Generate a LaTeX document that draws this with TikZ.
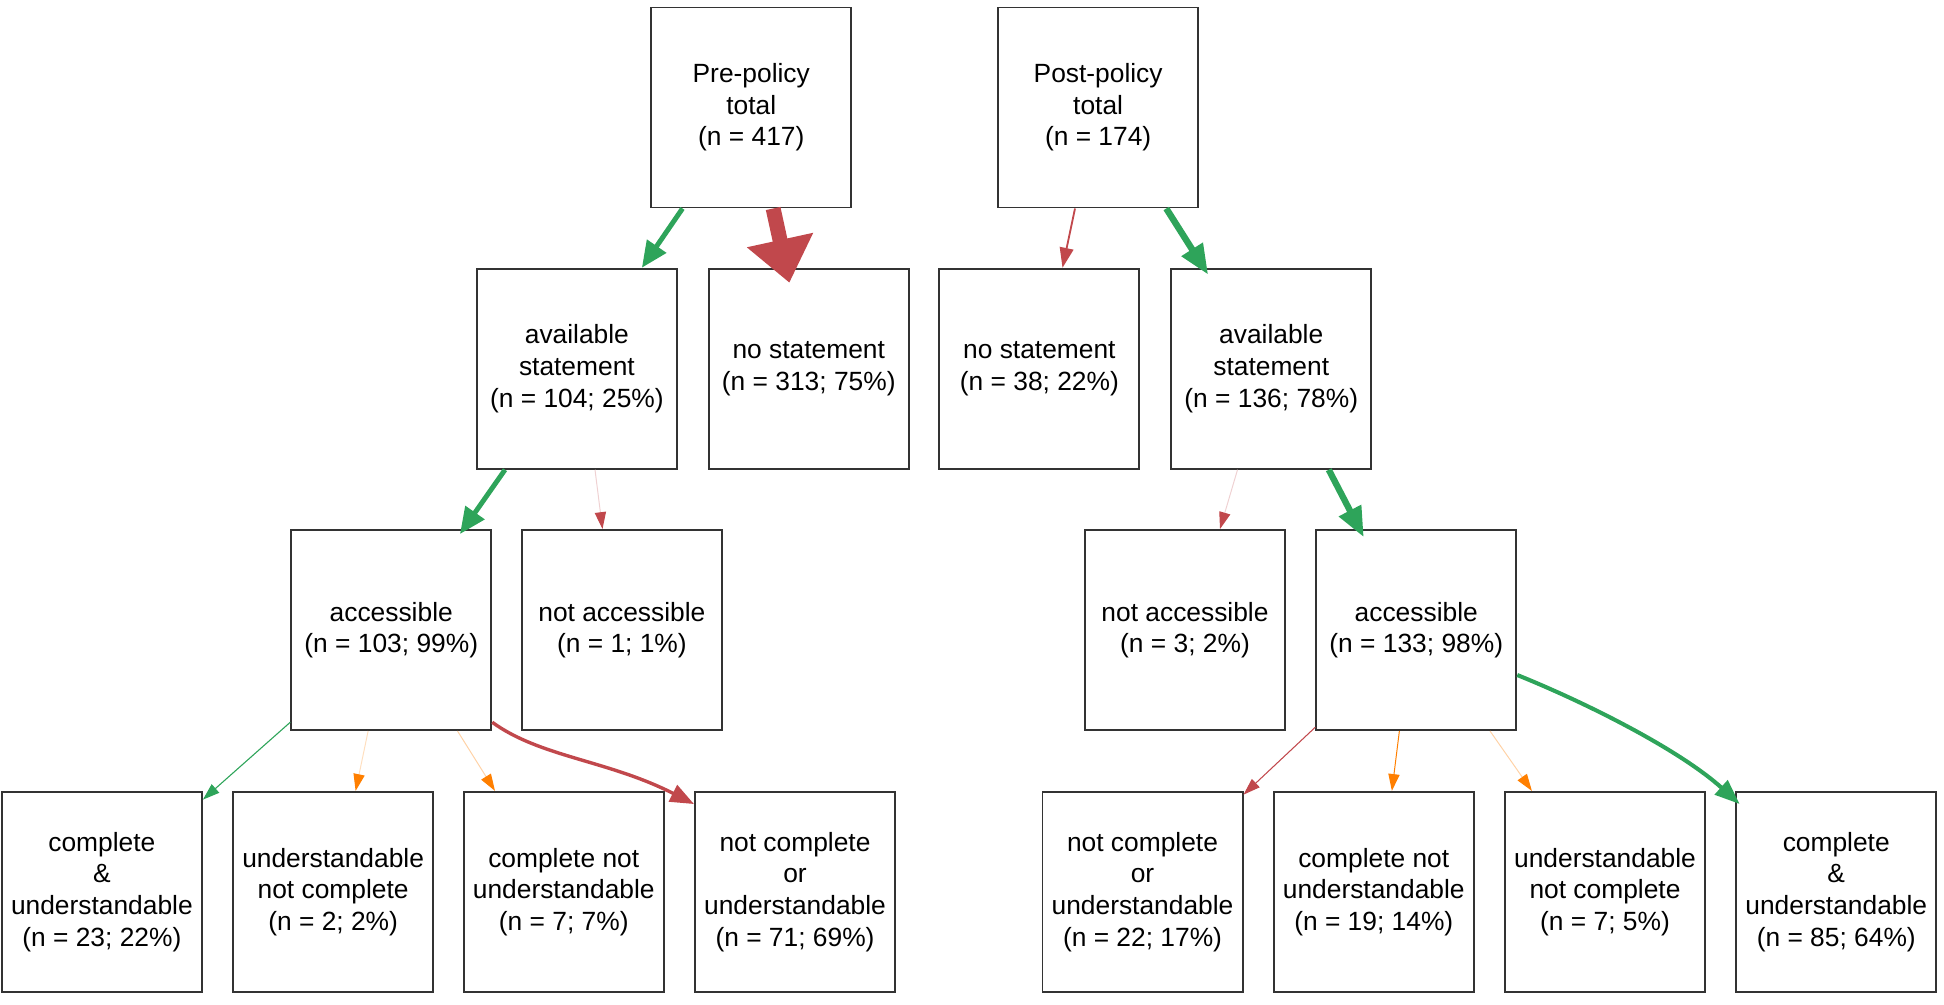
\documentclass[tikz,border=0pt]{standalone}
\usepackage{fontspec}
\setmainfont{Liberation Sans}
\usetikzlibrary{arrows.meta}
\definecolor{yescol}{RGB}{46,164,90}
\definecolor{nocol}{RGB}{193,72,76}
\definecolor{partcol}{RGB}{255,127,0}
\tikzstyle{box}=[draw=black!80, line width=0.9pt, minimum width=3.2cm,
  minimum height=3.2cm, align=center, inner sep=1pt,
  font=\fontsize{12pt}{14.4pt}\selectfont]
\tikzstyle{flow}=[line cap=butt]
\tikzset{small head/.style={-{Triangle[length=0.27cm,width=0.18cm,color=#1]}}}

\begin{document}
\begin{tikzpicture}
  \useasboundingbox (0,0) rectangle (31.104,-16.064);
  % Totals
  \node[box] (pre)  at (12.02,-1.72) {Pre-policy\\total\\(n = 417)};
  \node[box] (post) at (17.57,-1.72) {Post-policy\\total\\(n = 174)};
  % Statements
  \node[box] (avlpre)  at (9.23,-5.90)  {available\\statement\\(n = 104; 25\%)};
  \node[box] (nopre)   at (12.94,-5.90) {no statement\\(n = 313; 75\%)};
  \node[box] (nopost)  at (16.63,-5.90) {no statement\\(n = 38; 22\%)};
  \node[box] (avlpost) at (20.34,-5.90) {available\\statement\\(n = 136; 78\%)};
  % Access
  \node[box] (accpre)  at (6.26,-10.08)  {accessible\\(n = 103; 99\%)};
  \node[box] (napre)   at (9.95,-10.08)  {not accessible\\(n = 1; 1\%)};
  \node[box] (napost)  at (18.96,-10.08) {not accessible\\(n = 3; 2\%)};
  \node[box] (accpost) at (22.66,-10.08) {accessible\\(n = 133; 98\%)};
  % Quality
  \node[box] (cupre)   at (1.63,-14.27)  {complete\\\&\\understandable\\(n = 23; 22\%)};
  \node[box] (uncpre)  at (5.33,-14.27)  {understandable\\not complete\\(n = 2; 2\%)};
  \node[box] (cnupre)  at (9.02,-14.27)  {complete not\\understandable\\(n = 7; 7\%)};
  \node[box] (ncupre)  at (12.72,-14.27) {not complete\\or\\understandable\\(n = 71; 69\%)};
  \node[box] (ncupost) at (18.28,-14.27) {not complete\\or\\understandable\\(n = 22; 17\%)};
  \node[box] (cnupost) at (21.98,-14.27) {complete not\\understandable\\(n = 19; 14\%)};
  \node[box] (uncpost) at (25.68,-14.27) {understandable\\not complete\\(n = 7; 5\%)};
  \node[box] (cupost)  at (29.38,-14.27) {complete\\\&\\understandable\\(n = 85; 64\%)};
  % Flows, width follows n
  \draw[flow,yescol,line width=2.26pt,-{Triangle[length=0.42cm,width=0.36cm]}]
    ([xshift=-1.1cm]pre.south) -- ([xshift=1.04cm]avlpre.north);
  \draw[flow,nocol,line width=6.8pt,-{Triangle[length=0.7cm,width=1.04cm]}]
    ([xshift=0.35cm]pre.south) -- ([xshift=-0.31cm,yshift=-0.24cm]nopre.north);
  \draw[flow,nocol,line width=0.83pt,-{Triangle[length=0.32cm,width=0.22cm]}]
    ([xshift=-0.37cm]post.south) -- ([xshift=0.37cm]nopost.north);
  \draw[flow,yescol,line width=2.96pt,-{Triangle[length=0.48cm,width=0.38cm]}]
    ([xshift=1.09cm]post.south) -- ([xshift=-1.01cm,yshift=-0.11cm]avlpost.north);
  \draw[flow,yescol,line width=2.24pt,-{Triangle[length=0.42cm,width=0.36cm]}]
    ([xshift=-1.15cm]avlpre.south) -- ([xshift=1.1cm,yshift=-0.08cm]accpre.north);
  \draw[flow,nocol!25,line width=0.45pt,small head=nocol]
    ([xshift=0.29cm]avlpre.south) -- ([xshift=-0.31cm]napre.north);
  \draw[flow,nocol!25,line width=0.45pt,small head=nocol]
    ([xshift=-0.54cm]avlpost.south) -- ([xshift=0.56cm]napost.north);
  \draw[flow,yescol,line width=2.9pt,-{Triangle[length=0.48cm,width=0.38cm]}]
    ([xshift=0.92cm]avlpost.south) -- ([xshift=-0.84cm,yshift=-0.13cm]accpost.north);
  % Pre-policy quality
  \draw[flow,yescol,line width=0.5pt,small head=yescol]
    ([yshift=0.14cm]accpre.south west) -- ([yshift=-0.14cm]cupre.north east);
  \draw[flow,partcol!25,line width=0.45pt,small head=partcol]
    ([xshift=-0.37cm]accpre.south) -- ([xshift=0.36cm]uncpre.north);
  \draw[flow,partcol!35,line width=0.45pt,small head=partcol]
    ([xshift=1.06cm]accpre.south) -- ([xshift=-1.1cm]cnupre.north);
  \draw[flow,nocol,line width=1.55pt,-{Triangle[length=0.38cm,width=0.29cm]}]
    ([yshift=0.14cm]accpre.south east) .. controls +(-36:0.95cm) and +(153:1.55cm)
    .. ([yshift=-0.21cm]ncupre.north west);
  % Post-policy quality
  \draw[flow,nocol,line width=0.48pt,small head=nocol]
    ([yshift=0.06cm]accpost.south west) -- ([yshift=-0.06cm]ncupost.north east);
  \draw[flow,partcol,line width=0.45pt,small head=partcol]
    ([xshift=-0.27cm]accpost.south) -- ([xshift=0.29cm]cnupost.north);
  \draw[flow,partcol!35,line width=0.45pt,small head=partcol]
    ([xshift=1.18cm]accpost.south) -- ([xshift=-1.17cm]uncpost.north);
  \draw[flow,yescol,line width=1.85pt,-{Triangle[length=0.4cm,width=0.3cm]}]
    ([yshift=-0.72cm]accpost.east) .. controls +(-22:1.25cm) and +(138:1.28cm)
    .. ([xshift=0.07cm,yshift=-0.21cm]cupost.north west);
\end{tikzpicture}
\end{document}
